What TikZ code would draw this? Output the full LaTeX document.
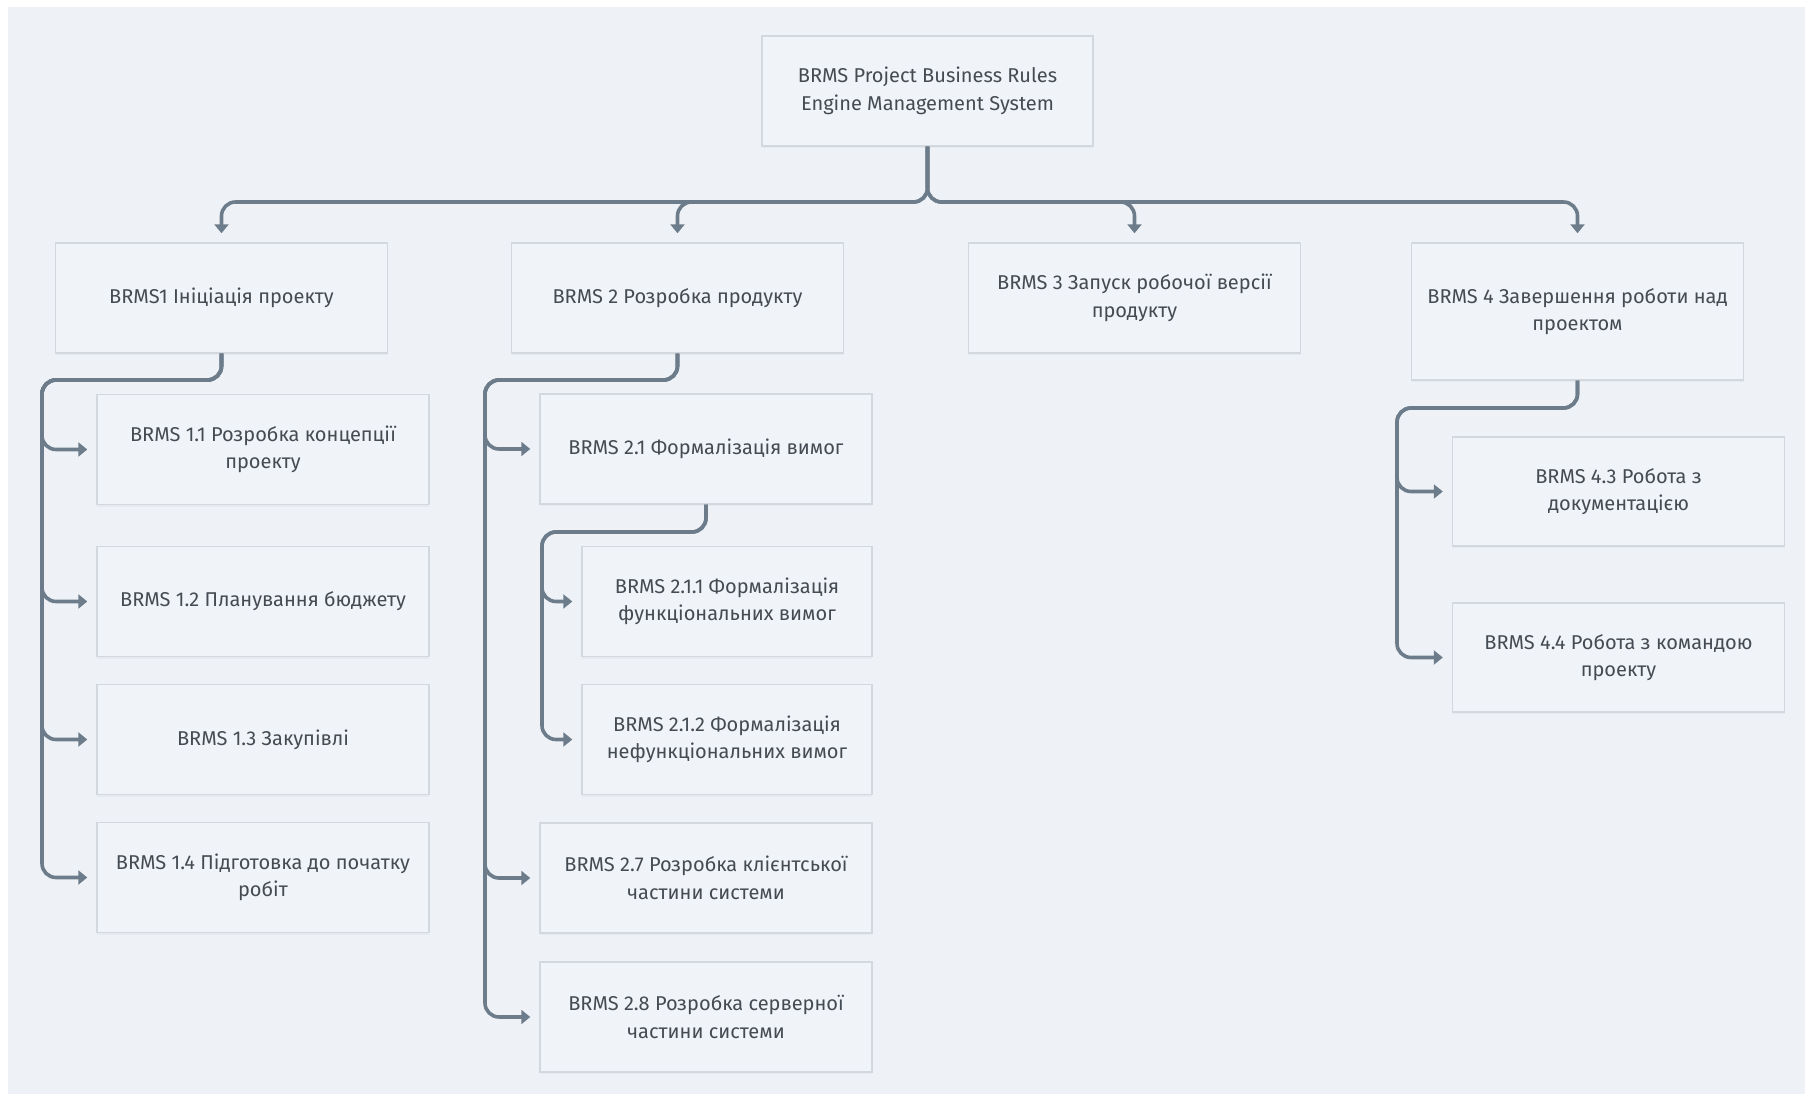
\documentclass[tikz,border=0pt]{standalone}
\usepackage{fontspec}
\setmainfont{Fira Sans}
\usetikzlibrary{arrows.meta,shadows}
\definecolor{pagebg}{HTML}{EEF2F6}
\definecolor{boxfill}{HTML}{F0F3F7}
\definecolor{boxline}{HTML}{D2D8DE}
\definecolor{linkcol}{HTML}{6D7C8B}
\definecolor{txtcol}{HTML}{454B52}
\tikzset{
  wbsbox/.style={draw=boxline, line width=1.4pt, fill=boxfill, rectangle,
    minimum width=332pt, minimum height=110pt, inner sep=0pt, align=center,
    text=txtcol, font=\fontsize{20}{27.5}\selectfont,
    drop shadow={opacity=0.07, shadow xshift=0pt, shadow yshift=-2pt}},
  link/.style={draw=linkcol, line width=3.6pt, rounded corners=14pt,
    -{Triangle[width=14pt,length=9pt]}, shorten >=9pt}
}
\begin{document}
\begin{tikzpicture}[x=1pt,y=-1pt]
  % page and canvas
  \fill[white] (0,0) rectangle (1805,1094);
  \fill[pagebg] (8,7) rectangle (1805,1094);
  \useasboundingbox (0,0) rectangle (1805,1094);

  % root
  \node[wbsbox, minimum width=331pt] (r) at (927.5,91) {BRMS Project Business Rules\\Engine Management System};

  % first level
  \node[wbsbox] (b1) at (221.5,298) {BRMS1 Ініціація проекту};
  \node[wbsbox] (b2) at (677.5,298) {BRMS 2 Розробка продукту};
  \node[wbsbox] (b3) at (1134.5,298) {BRMS 3 Запуск робочої версії\\продукту};
  \node[wbsbox, minimum height=137pt] (b4) at (1577.5,311.5) {BRMS 4 Завершення роботи над\\проектом};

  % branch 1
  \node[wbsbox] (b11) at (263,449.5) {BRMS 1.1 Розробка концепції\\проекту};
  \node[wbsbox] (b12) at (263,601.5) {BRMS 1.2 Планування бюджету};
  \node[wbsbox] (b13) at (263,739.5) {BRMS 1.3 Закупівлі};
  \node[wbsbox] (b14) at (263,877.5) {BRMS 1.4 Підготовка до початку\\робіт};

  % branch 2
  \node[wbsbox] (b21) at (706,449) {BRMS 2.1 Формалізація вимог};
  \node[wbsbox, minimum width=290pt] (b211) at (727,601.5) {BRMS 2.1.1 Формалізація\\функціональних вимог};
  \node[wbsbox, minimum width=290pt] (b212) at (727,739.5) {BRMS 2.1.2 Формалізація\\нефункціональних вимог};
  \node[wbsbox] (b27) at (706,878) {BRMS 2.7 Розробка клієнтської\\частини системи};
  \node[wbsbox] (b28) at (706,1017) {BRMS 2.8 Розробка серверної\\частини системи};

  % branch 4
  \node[wbsbox, minimum height=109pt] (b43) at (1618.5,491.5) {BRMS 4.3 Робота з\\документацією};
  \node[wbsbox, minimum height=109pt] (b44) at (1618.5,657.5) {BRMS 4.4 Робота з командою\\проекту};

  % routing points
  \coordinate (bus) at (0,202);
  \coordinate (v1) at (42,380);
  \coordinate (v2) at (485,380);
  \coordinate (v21) at (542,532);
  \coordinate (v4) at (1397,408);

  % root to first level
  \foreach \c in {b1,b2,b3,b4}
    \draw[link] (r.south) |- (\c.north |- bus) -- (\c.north);

  % first level to children
  \foreach \c in {b11,b12,b13,b14}
    \draw[link] (b1.south) |- (v1) |- (\c.west);
  \foreach \c in {b21,b27,b28}
    \draw[link] (b2.south) |- (v2) |- (\c.west);
  \foreach \c in {b211,b212}
    \draw[link] (b21.south) |- (v21) |- (\c.west);
  \foreach \c in {b43,b44}
    \draw[link] (b4.south) |- (v4) |- (\c.west);
\end{tikzpicture}
\end{document}
